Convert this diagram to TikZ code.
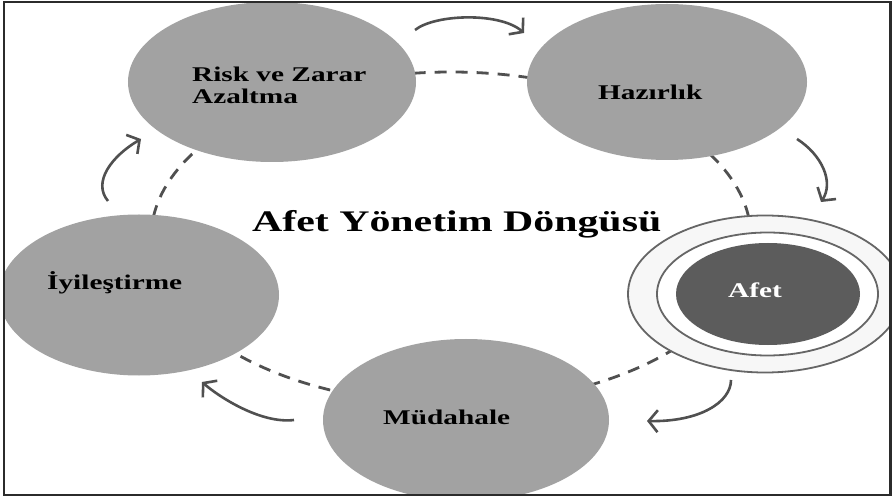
\documentclass[tikz,border=0pt]{standalone}
\usepackage{fontspec}
\setmainfont{Liberation Serif}
\usetikzlibrary{shapes.geometric,arrows.meta}
\definecolor{phase}{HTML}{A2A2A2}
\definecolor{disaster}{HTML}{5C5C5C}
\definecolor{ink}{HTML}{505050}
\definecolor{ringc}{HTML}{666666}
\definecolor{framec}{HTML}{2B2B2B}
\definecolor{ringfill}{HTML}{F7F7F7}
\newcommand\stretchtxt[1]{\scalebox{1.4}[1]{#1}}
\tikzset{
  phasenode/.style={ellipse, fill=phase, inner sep=0pt},
  lbl/.style={font=\fontsize{21}{22}\selectfont\bfseries, text=black, inner sep=0pt, anchor=base west},
  cyclering/.style={draw=ink, line width=2.8bp, dash pattern=on 12bp off 9bp},
  cyclearrow/.style={draw=ink, line width=2.6bp, -{Straight Barb[length=9bp,width=22bp]}},
}
\begin{document}
\begin{tikzpicture}[x=1bp,y=-1bp]
\useasboundingbox (0,0) rectangle (894,499);
\fill[white] (0,0) rectangle (894,499);
\begin{scope}
\clip (4,2) rectangle (890,495);
% cycle ring behind the phases
\draw[cyclering] (451,238) ellipse [x radius=300bp, y radius=166bp];
% phases
\node[phasenode, minimum width=288bp, minimum height=160bp] (risk) at (272,82) {};
\node[phasenode, minimum width=280bp, minimum height=156bp] (haz) at (667,82) {};
\node[phasenode, minimum width=280bp, minimum height=161bp] (iyi) at (139,295) {};
\node[phasenode, minimum width=286bp, minimum height=162bp] (mud) at (466,420) {};
% disaster with rings
\node[ellipse, draw=ringc, line width=1.8bp, fill=ringfill, minimum width=274bp, minimum height=157bp, inner sep=0pt] (ringout) at (765,294) {};
\node[ellipse, draw=ringc, line width=1.8bp, fill=white, minimum width=221bp, minimum height=123bp, inner sep=0pt] (ringin) at (767.5,294) {};
\node[ellipse, fill=disaster, minimum width=184bp, minimum height=102bp, inner sep=0pt] (afet) at (768,294) {};
\end{scope}
% labels
\node[lbl] (risktxt) at (192,82) {\stretchtxt{\begin{tabular}[t]{@{}l@{}}Risk ve Zarar\\Azaltma\end{tabular}}};
\node[lbl] (haztxt) at (598,100) {\stretchtxt{Hazırlık}};
\node[lbl] (iyitxt) at (47,290) {\stretchtxt{İyileştirme}};
\node[lbl] (mudtxt) at (383,424) {\stretchtxt{Müdahale}};
\node[lbl, text=white] (afettxt) at (728,298) {\stretchtxt{Afet}};
\node[lbl, font=\fontsize{30}{32}\selectfont\bfseries] (title) at (252,232) {\stretchtxt{Afet Yönetim Döngüsü}};
% arrows between phases
\coordinate (a1s) at (415,30);  \coordinate (a1e) at (524,33);
\coordinate (a2s) at (797,139); \coordinate (a2e) at (821,202);
\coordinate (a3s) at (731,380); \coordinate (a3e) at (647,421);
\coordinate (a4s) at (294,420); \coordinate (a4e) at (202,382);
\coordinate (a5s) at (108,201); \coordinate (a5e) at (141,139);
\draw[cyclearrow] (a1s) .. controls (435,14) and (500,12) .. (a1e);
\draw[cyclearrow] (a2s) .. controls (822,155) and (834,182) .. (a2e);
\draw[cyclearrow] (a3s) .. controls (731,402) and (700,422) .. (a3e);
\draw[cyclearrow] (a4s) .. controls (260,424) and (218,396) .. (a4e);
\draw[cyclearrow] (a5s) .. controls (92,182) and (112,156) .. (a5e);
% frame
\draw[framec, line width=2.5bp] (4,1.8) rectangle (890.5,495);
\end{tikzpicture}
\end{document}
